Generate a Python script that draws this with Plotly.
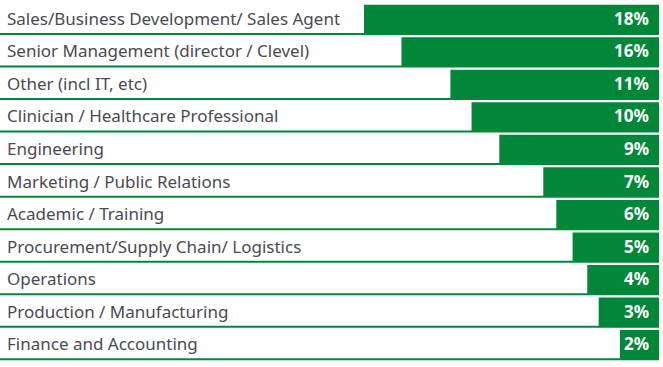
import plotly.graph_objects as go

categories = [
    "Sales/Business Development/ Sales Agent",
    "Senior Management (director / Clevel)",
    "Other (incl IT, etc)",
    "Clinician / Healthcare Professional",
    "Engineering",
    "Marketing / Public Relations",
    "Academic / Training",
    "Procurement/Supply Chain/ Logistics",
    "Operations",
    "Production / Manufacturing",
    "Finance and Accounting",
]
bar_lengths = [18.1, 15.8, 12.8, 11.5, 9.8, 7.1, 6.3, 5.3, 4.4, 3.7, 2.4]
pct_labels = ["18%", "16%", "11%", "10%", "9%", "7%", "6%", "5%", "4%", "3%", "2%"]

GREEN = "#00873A"
TEXT = "#4a4a52"
FONT = "Noto Sans"

fig = go.Figure()
fig.add_trace(go.Bar(
    y=categories,
    x=bar_lengths,
    orientation="h",
    width=0.9,
    marker=dict(color=GREEN, line=dict(width=0)),
    hoverinfo="skip",
))

annotations = []
shapes = []
for i, (cat, lab) in enumerate(zip(categories, pct_labels)):
    annotations.append(dict(
        x=0, xref="paper", y=cat, yref="y", text=cat, showarrow=False,
        xanchor="left", yanchor="middle", xshift=5, yshift=1,
        font=dict(family=FONT, size=17, color=TEXT),
    ))
    annotations.append(dict(
        x=0, xref="x", y=cat, yref="y", text="<b>" + lab + "</b>", showarrow=False,
        xanchor="right", yanchor="middle", xshift=-8, yshift=1,
        font=dict(family=FONT, size=17, color="white"),
    ))
    shapes.append(dict(
        type="line", xref="paper", x0=0, x1=1, yref="y", y0=i + 0.45, y1=i + 0.45,
        line=dict(color=GREEN, width=2), layer="below",
    ))

fig.update_layout(
    width=663, height=367,
    margin=dict(l=0, r=4, t=3, b=6),
    paper_bgcolor="white", plot_bgcolor="white",
    showlegend=False,
    annotations=annotations,
    shapes=shapes,
    xaxis=dict(range=[40.43, 0], visible=False, fixedrange=True),
    yaxis=dict(range=[10.5, -0.5], visible=False, fixedrange=True,
               categoryorder="array", categoryarray=categories),
)

fig.write_html(
    "out.html",
    config={"displayModeBar": False, "staticPlot": True},
    post_script="document.body.style.margin='0';document.body.style.overflow='hidden';",
)
